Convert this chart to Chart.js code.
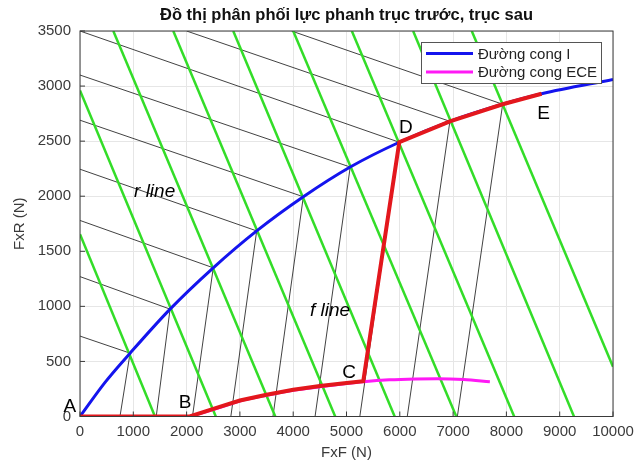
<!DOCTYPE html>
<html>
<head>
<meta charset="utf-8">
<script src="https://cdn.jsdelivr.net/npm/chart.js@4.4.1/dist/chart.umd.min.js"></script>
<style>
  html, body { margin: 0; padding: 0; background: #fff; }
  #wrap { width: 635px; height: 465px; }
</style>
</head>
<body>
<div id="wrap"><canvas id="brakeChart"></canvas></div>
<script>
// ideal curve I (blue)
const curveIx = [0, 470, 940, 1690, 2500, 3315, 4190, 5070, 5990, 6940, 7930, 8660, 10000];
const curveIy = [0, 310, 575, 975, 1350, 1685, 1995, 2265, 2490, 2680, 2835, 2930, 3060];

// ECE curve (magenta)
const eceX = [2060, 2560, 3000, 3500, 4000, 4500, 5000, 5315, 5800, 6300, 6700, 7200, 7690];
const eceY = [0, 72, 140, 193, 238, 270, 300, 316, 333, 341, 343, 336, 316];

// actual distribution A-B-C-D-E (red)
const redX = [0, 2060, 2560, 3000, 3500, 4000, 4500, 5000, 5315, 5990, 6940, 7930, 8660];
const redY = [0, 0, 78, 145, 198, 243, 276, 305, 321, 2490, 2680, 2835, 2930];

// green lines: start / end points
const greenX0 = [0, 0, 625, 1750, 2875, 4000, 5100, 6250, 7350];
const greenY0 = [1655, 2960, 3500, 3500, 3500, 3500, 3500, 3500, 3500];
const greenX1 = [1407, 2548, 3664, 4788, 5904, 7060, 8146, 9268, 10000];
const greenY1 = [0, 0, 0, 0, 0, 0, 0, 0, 452];

// intersection points on curve I
const hitX = [940, 1690, 2500, 3315, 4190, 5070, 5990, 6940, 7930];
const hitY = [575, 975, 1350, 1685, 1995, 2265, 2490, 2680, 2835];

// r lines start (left / top edge), f lines start (x axis)
const rX0 = [0, 0, 0, 0, 0, 0, 0, 2000, 3970];
const rY0 = [730, 1270, 1780, 2245, 2690, 3100, 3500, 3500, 3500];
const fX0 = [750, 1430, 2110, 2830, 3620, 4410, 5250, 6140, 7080];

// point labels
const labelText = ['A', 'B', 'C', 'D', 'E'];
const labelX = [-190, 1970, 5050, 6115, 8700];
const labelY = [90, 122, 395, 2620, 2750];
const noteText = ['r line', 'f line'];
const noteX = [1400, 4690];
const noteY = [2040, 960];

const xTicks = [0, 1000, 2000, 3000, 4000, 5000, 6000, 7000, 8000, 9000, 10000];
const yTicks = [0, 500, 1000, 1500, 2000, 2500, 3000, 3500];

const FONT = '"Liberation Sans", Arial, sans-serif';

function pts(xs, ys) {
    return xs.map((x, i) => ({ x: x, y: ys[i] }));
}

const datasets = [];

datasets.push({
    label: 'red', data: pts(redX, redY), borderColor: '#e3171d', borderWidth: 4,
    order: 1
});
datasets.push({
    label: 'Đường cong ECE', data: pts(eceX, eceY), borderColor: '#ff19f5', borderWidth: 3,
    cubicInterpolationMode: 'monotone', order: 2
});
datasets.push({
    label: 'Đường cong I', data: pts(curveIx, curveIy), borderColor: '#1414ee', borderWidth: 3,
    cubicInterpolationMode: 'monotone', order: 3
});
greenX0.forEach((x, i) => {
    datasets.push({
        label: 'green' + i,
        data: [{ x: x, y: greenY0[i] }, { x: greenX1[i], y: greenY1[i] }],
        borderColor: '#33dd28', borderWidth: 2.5, order: 4
    });
});
hitX.forEach((x, i) => {
    datasets.push({
        label: 'r' + i,
        data: [{ x: rX0[i], y: rY0[i] }, { x: x, y: hitY[i] }],
        borderColor: '#111', borderWidth: 0.8, order: 5
    });
    datasets.push({
        label: 'f' + i,
        data: [{ x: fX0[i], y: 0 }, { x: x, y: hitY[i] }],
        borderColor: '#111', borderWidth: 0.8, order: 5
    });
});

const decorPlugin = {
    id: 'decor',
    afterDraw(chart) {
        const ctx = chart.ctx;
        const a = chart.chartArea;
        const xs = chart.scales.x;
        const ys = chart.scales.y;
        ctx.save();
        // box
        ctx.strokeStyle = '#3a3a3a';
        ctx.lineWidth = 1;
        ctx.strokeRect(a.left, a.top, a.right - a.left, a.bottom - a.top);
        // inward ticks
        xTicks.forEach(v => {
            const px = xs.getPixelForValue(v);
            ctx.beginPath();
            ctx.moveTo(px, a.bottom); ctx.lineTo(px, a.bottom - 5);
            ctx.stroke();
        });
        yTicks.forEach(v => {
            const py = ys.getPixelForValue(v);
            ctx.beginPath();
            ctx.moveTo(a.left, py); ctx.lineTo(a.left + 5, py);
            ctx.stroke();
        });
        // point labels
        ctx.fillStyle = '#000';
        ctx.textAlign = 'center';
        ctx.textBaseline = 'middle';
        ctx.font = '19px ' + FONT;
        labelText.forEach((t, i) => {
            ctx.fillText(t, xs.getPixelForValue(labelX[i]), ys.getPixelForValue(labelY[i]));
        });
        ctx.font = 'italic 19px ' + FONT;
        noteText.forEach((t, i) => {
            ctx.fillText(t, xs.getPixelForValue(noteX[i]), ys.getPixelForValue(noteY[i]));
        });
        // legend
        const lx = 421, ly = 42, lw = 180, lh = 41;
        ctx.fillStyle = '#fff';
        ctx.fillRect(lx, ly, lw, lh);
        ctx.strokeStyle = '#555';
        ctx.strokeRect(lx + 0.5, ly + 0.5, lw, lh);
        const entries = [chart.data.datasets[2], chart.data.datasets[1]];
        ctx.textAlign = 'left';
        ctx.font = '15px ' + FONT;
        entries.forEach((ds, i) => {
            const y = ly + 11.5 + i * 18.5;
            ctx.strokeStyle = ds.borderColor;
            ctx.lineWidth = 3;
            ctx.beginPath();
            ctx.moveTo(lx + 5, y); ctx.lineTo(lx + 52, y);
            ctx.stroke();
            ctx.fillStyle = '#222';
            ctx.fillText(ds.label, lx + 57, y + 1);
        });
        ctx.restore();
    }
};

new Chart(document.getElementById('brakeChart'), {
    type: 'scatter',
    data: { datasets: datasets },
    options: {
        responsive: true,
        maintainAspectRatio: false,
        animation: false,
        showLine: true,
        elements: { point: { radius: 0 }, line: { tension: 0, borderCapStyle: 'butt' } },
        layout: { padding: { top: 0, right: 22, left: 0, bottom: 0 } },
        plugins: {
            legend: { display: false },
            tooltip: { enabled: false },
            title: {
                display: true,
                fullSize: false,
                text: 'Đồ thị phân phối lực phanh trục trước, trục sau',
                color: '#111',
                font: { family: FONT, size: 16.5, weight: 'bold', lineHeight: 1.2 },
                padding: { top: 6, bottom: 5.2 }
            }
        },
        scales: {
            x: {
                type: 'linear', min: 0, max: 10000,
                afterFit: s => { s.height = 48.5; s.paddingRight = 0; s.paddingLeft = 0; },
                afterBuildTicks: s => { s.ticks = xTicks.map(v => ({ value: v })); },
                ticks: { color: '#3a3a3a', font: { family: FONT, size: 15 }, padding: 6, maxRotation: 0, autoSkip: false, callback: v => String(v) },
                grid: { color: '#e6e6e6', drawTicks: false },
                border: { display: false },
                title: { display: true, text: 'FxF (N)', color: '#3a3a3a', font: { family: FONT, size: 15, lineHeight: 1.2 }, padding: { top: 0, bottom: 3 } }
            },
            y: {
                type: 'linear', min: 0, max: 3500,
                afterFit: s => { s.width = 80; s.paddingTop = 0; s.paddingBottom = 0; },
                afterBuildTicks: s => { s.ticks = yTicks.map(v => ({ value: v })); },
                ticks: { color: '#3a3a3a', font: { family: FONT, size: 15 }, padding: 9, autoSkip: false, callback: v => String(v) },
                grid: { color: '#e6e6e6', drawTicks: false },
                border: { display: false },
                title: { display: true, text: 'FxR (N)', color: '#3a3a3a', font: { family: FONT, size: 15, lineHeight: 1.2 }, padding: { top: 11, bottom: 0 } }
            }
        }
    },
    plugins: [decorPlugin]
});
</script>
</body>
</html>
